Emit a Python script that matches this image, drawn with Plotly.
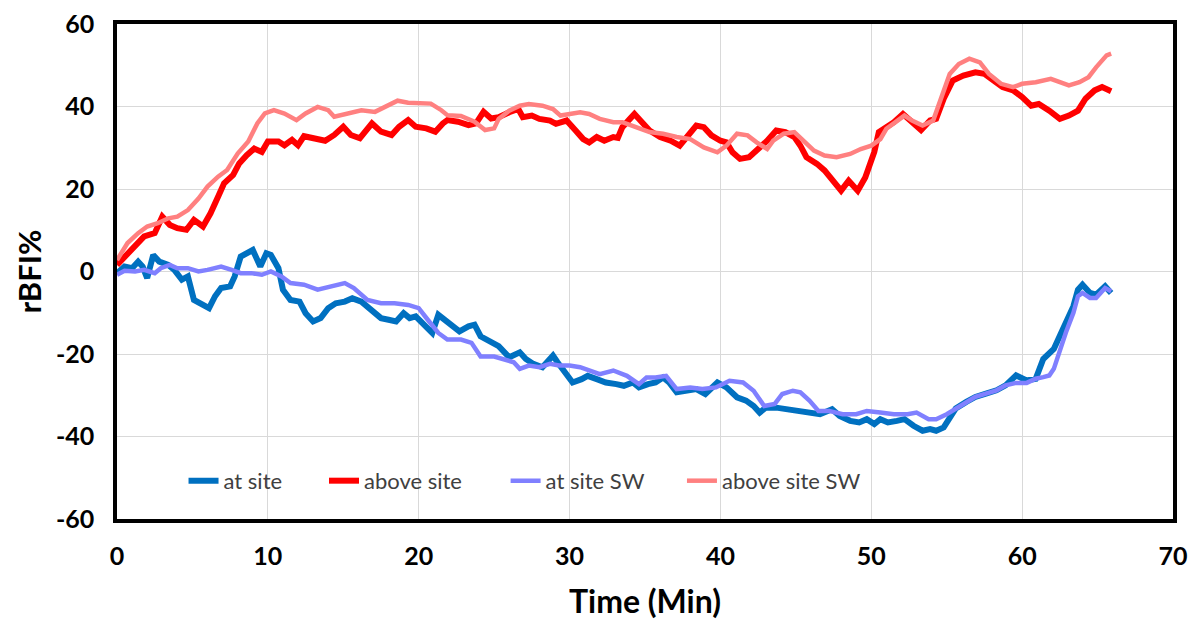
import plotly.graph_objects as go

# ---- data ----
at_site_t = [0, 0.5, 1.0, 1.4, 1.7, 2.0, 2.4, 2.8, 3.4, 3.8, 4.3, 4.7, 5.1, 5.6, 6.1, 6.5, 6.9, 7.5, 7.8, 8.2,
             8.7, 9.0, 9.5, 9.9, 10.2, 10.7, 11.0, 11.5, 12.1, 12.5, 13.0, 13.5, 14.0, 14.5, 15.1, 15.6, 16.2,
             16.9, 17.5, 18.0, 18.5, 19.0, 19.4, 19.8, 20.4, 20.9, 21.3, 21.7, 22.2, 22.7, 23.3, 23.7, 24.1,
             24.7, 25.3, 26.0, 26.7, 27.1, 27.6, 28.2, 28.9, 29.2, 29.8, 30.2, 30.8, 31.2, 31.8, 32.4, 33.1,
             33.6, 34.2, 34.6, 35.2, 35.7, 36.2, 36.6, 37.1, 37.7, 38.4, 39.0, 39.5, 39.8, 40.4, 41.1, 41.7,
             42.2, 42.6, 43.0, 43.7, 44.4, 45.3, 45.9, 46.6, 47.4, 47.9, 48.6, 49.2, 49.7, 50.2, 50.6, 51.1,
             51.7, 52.2, 52.8, 53.4, 53.9, 54.3, 54.8, 55.2, 55.6, 56.3, 56.9, 57.6, 58.3, 58.9, 59.6, 60.3,
             60.9, 61.4, 61.8, 62.1, 62.5, 62.9, 63.4, 63.7, 64.0, 64.5, 64.9, 65.5, 65.9]
at_site_v = [-0.4, 1.2, 0.8, 2.4, 1.2, -1.6, 4.0, 2.4, 1.6, 0.4, -2.0, -1.2, -6.9, -8.1, -8.9, -6.0, -4.0, -3.6,
             -1.2, 3.6, 4.4, 5.2, 1.2, 4.4, 4.0, 0.8, -4.4, -6.9, -7.3, -10.1, -12.1, -11.3, -8.9, -7.7, -7.3,
             -6.5, -7.3, -9.3, -11.3, -11.7, -12.1, -10.1, -11.3, -10.9, -13.3, -14.9, -10.5, -11.7, -13.3,
             -14.5, -13.3, -12.9, -15.7, -16.9, -18.1, -20.8, -19.6, -21.2, -22.4, -23.2, -20.4, -22.0, -25.3,
             -26.9, -26.1, -25.3, -26.1, -26.9, -27.3, -27.7, -26.9, -28.1, -27.3, -26.9, -25.7, -26.9, -29.3,
             -28.9, -28.5, -29.7, -27.7, -26.9, -28.1, -30.5, -31.3, -32.6, -34.2, -33.0, -33.0, -33.4, -33.8,
             -34.0, -34.6, -33.4, -35.0, -36.2, -36.6, -35.8, -37.0, -35.8, -36.6, -36.2, -35.8, -37.4, -38.6,
             -38.2, -38.6, -37.8, -35.4, -33.2, -31.6, -30.4, -29.6, -28.8, -27.6, -25.2, -26.4, -26.0, -21.2,
             -19.6, -18.8, -15.6, -12.4, -8.4, -4.4, -3.2, -5.2, -5.6, -3.6, -5.2]

above_site_t = [0, 0.7, 1.4, 1.8, 2.5, 3.0, 3.5, 4.0, 4.6, 5.1, 5.7, 6.2, 6.7, 7.1, 7.7, 8.1, 8.6, 9.1, 9.6,
                10.0, 10.7, 11.1, 11.6, 12.0, 12.4, 13.1, 13.8, 14.4, 15.0, 15.5, 16.1, 16.9, 17.5, 18.2, 18.7,
                19.3, 19.8, 20.5, 21.1, 21.6, 21.9, 22.6, 23.3, 23.8, 24.3, 24.8, 25.3, 26.0, 26.6, 26.9, 27.5,
                28.0, 28.7, 29.1, 29.8, 30.4, 30.9, 31.3, 31.8, 32.3, 32.9, 33.2, 33.5, 34.0, 34.3, 34.8, 35.3,
                36.0, 36.7, 37.3, 37.8, 38.4, 38.9, 39.4, 40.0, 40.4, 40.8, 41.3, 41.9, 42.4, 43.1, 43.7, 44.3,
                44.9, 45.3, 45.7, 46.4, 46.9, 47.4, 48.0, 48.5, 49.1, 49.6, 50.2, 50.5, 50.9, 51.5, 52.1, 52.6,
                53.3, 53.9, 54.3, 54.8, 55.4, 56.1, 56.9, 57.5, 58.1, 58.7, 59.4, 60.0, 60.6, 61.1, 61.8, 62.5,
                63.1, 63.7, 64.2, 64.8, 65.3, 65.9]
above_site_v = [1.6, 4.4, 6.9, 8.5, 9.3, 13.3, 11.3, 10.5, 10.1, 12.5, 10.9, 14.1, 18.1, 21.4, 23.4, 26.2, 28.2,
                29.8, 29.0, 31.5, 31.5, 30.6, 31.9, 30.6, 32.8, 32.3, 31.7, 33.1, 35.1, 33.1, 32.3, 35.9, 33.9,
                33.1, 35.1, 36.7, 35.1, 34.7, 33.9, 35.9, 36.7, 36.3, 35.5, 35.9, 38.7, 37.1, 37.4, 38.6, 39.4,
                37.4, 37.8, 37.0, 36.6, 35.8, 36.6, 34.2, 32.1, 31.3, 32.6, 31.7, 32.6, 32.4, 35.0, 37.0, 38.2,
                36.2, 34.2, 32.6, 31.7, 30.5, 33.0, 35.4, 35.0, 33.0, 31.7, 31.3, 28.9, 27.3, 27.7, 29.3, 31.7,
                34.2, 33.8, 32.6, 30.5, 27.7, 26.1, 24.5, 22.0, 19.6, 22.0, 19.6, 22.8, 29.0, 33.8, 34.8, 36.2,
                38.2, 36.6, 34.3, 36.6, 37.0, 41.9, 46.3, 47.5, 48.3, 47.9, 46.3, 44.7, 43.9, 42.3, 40.2, 40.6,
                39.0, 37.0, 37.8, 39.0, 41.9, 43.9, 44.7, 43.7]

at_site_sw_t = [0, 0.5, 1.2, 1.8, 2.5, 2.9, 3.5, 4.0, 4.7, 5.4, 6.0, 6.9, 7.6, 8.2, 8.9, 9.6, 10.2, 10.9, 11.5,
                12.4, 13.3, 14.2, 15.1, 15.7, 16.6, 17.5, 18.4, 19.3, 20.0, 20.6, 21.3, 21.9, 22.8, 23.5, 24.1,
                25.0, 25.7, 26.3, 26.7, 27.3, 28.0, 28.7, 29.3, 30.0, 30.7, 31.3, 32.0, 32.9, 33.8, 34.6, 35.1,
                35.7, 36.4, 37.1, 38.0, 38.8, 39.7, 40.6, 41.5, 42.2, 42.9, 43.6, 44.1, 44.8, 45.3, 45.9, 46.5,
                47.2, 48.1, 49.0, 49.7, 50.6, 51.5, 52.4, 53.0, 53.8, 54.3, 55.0, 55.6, 56.3, 56.9, 57.6, 58.3,
                58.9, 59.6, 60.3, 60.9, 61.4, 61.8, 62.1, 62.5, 62.9, 63.4, 63.7, 64.0, 64.5, 64.9, 65.5, 65.9]
at_site_sw_v = [-0.8, 0.2, 0.0, 0.4, -0.4, 0.8, 1.6, 0.8, 0.8, 0.0, 0.4, 1.2, 0.4, -0.4, -0.4, -0.8, 0.0, -1.2,
                -2.8, -3.2, -4.4, -3.6, -2.8, -4.0, -6.9, -7.7, -7.7, -8.1, -8.9, -11.7, -14.9, -16.5, -16.5,
                -17.3, -20.6, -20.6, -21.4, -22.0, -23.6, -22.8, -23.2, -22.4, -22.8, -22.8, -23.2, -24.0, -24.9,
                -24.0, -25.3, -27.3, -25.7, -25.7, -25.3, -28.5, -28.1, -28.5, -28.1, -26.5, -26.9, -28.9, -32.6,
                -32.1, -29.7, -28.9, -29.3, -31.3, -33.8, -33.8, -34.6, -34.6, -33.8, -34.2, -34.6, -34.6, -34.2,
                -35.8, -35.8, -34.6, -33.2, -31.6, -30.4, -29.6, -28.8, -27.6, -27.0, -27.0, -26.0, -25.6, -25.2,
                -23.6, -18.8, -14.8, -10.0, -6.0, -5.2, -6.4, -6.4, -4.0, -4.8]

above_site_sw_t = [0, 0.7, 1.4, 2.0, 2.7, 3.4, 4.0, 4.7, 5.4, 6.0, 6.7, 7.3, 8.0, 8.7, 9.3, 9.8, 10.4, 11.1,
                   11.9, 12.5, 13.3, 14.0, 14.4, 15.3, 16.2, 17.1, 18.0, 18.6, 19.3, 20.2, 20.8, 21.5, 21.9, 22.8,
                   23.7, 24.4, 25.0, 25.3, 26.0, 26.7, 27.3, 28.2, 28.9, 29.4, 30.0, 30.7, 31.3, 32.0, 32.9, 33.5,
                   34.4, 35.3, 36.2, 37.1, 38.0, 38.9, 39.8, 40.4, 41.1, 41.8, 42.4, 43.1, 43.5, 44.2, 44.9, 45.5,
                   46.2, 46.9, 47.7, 48.6, 49.3, 50.0, 50.6, 51.0, 51.6, 52.2, 52.7, 53.4, 54.1, 54.6, 55.2, 55.8,
                   56.5, 57.2, 57.8, 58.6, 59.4, 60.0, 60.9, 61.9, 62.5, 63.1, 63.8, 64.4, 64.9, 65.6, 65.9]
above_site_sw_v = [2.8, 6.9, 9.3, 10.9, 11.7, 12.9, 13.3, 14.9, 17.7, 20.6, 23.0, 24.6, 28.6, 31.5, 35.9, 38.3,
                   39.1, 38.3, 36.7, 38.3, 39.9, 39.1, 37.5, 38.3, 39.1, 38.7, 40.3, 41.4, 40.9, 40.9, 40.7, 39.1,
                   37.9, 37.7, 36.3, 34.3, 34.7, 37.0, 39.0, 40.2, 40.6, 40.2, 39.4, 37.8, 38.2, 38.6, 38.2, 37.0,
                   36.2, 36.2, 35.0, 33.8, 33.4, 32.6, 32.1, 30.1, 28.9, 30.5, 33.4, 33.0, 31.3, 29.7, 31.7, 33.4,
                   33.8, 31.7, 29.3, 28.1, 27.7, 28.5, 29.7, 30.5, 32.1, 34.6, 36.2, 37.8, 36.6, 35.4, 36.6, 41.9,
                   47.9, 50.3, 51.6, 50.7, 47.9, 45.5, 44.7, 45.5, 45.9, 46.7, 45.9, 45.1, 45.9, 47.1, 49.5, 52.4,
                   52.8]

series_names = ["at site", "above site", "at site SW", "above site SW"]
x_ticks = [0, 10, 20, 30, 40, 50, 60, 70]
y_ticks = [-60, -40, -20, 0, 20, 40, 60]

colors = ["#0070C0", "#FF0000", "#8080FF", "#FF8080"]
widths = [6, 6, 4.5, 4.5]
legend_ids = ["legend", "legend2", "legend3", "legend4"]
legend_x = [0.063, 0.196, 0.368, 0.535]

data = [(at_site_t, at_site_v), (above_site_t, above_site_v),
        (at_site_sw_t, at_site_sw_v), (above_site_sw_t, above_site_sw_v)]

fig = go.Figure()
for i, (t, v) in enumerate(data):
    fig.add_trace(go.Scatter(
        x=t, y=v, mode="lines", name=series_names[i],
        line=dict(color=colors[i], width=widths[i]),
        legend=legend_ids[i], hoverinfo="skip",
    ))

legend_common = dict(orientation="h", yanchor="middle", xanchor="left", y=0.077,
                     bgcolor="rgba(0,0,0,0)", borderwidth=0,
                     font=dict(family="Lato", size=22, color="#404040"))
layout_legends = {}
for i, lid in enumerate(legend_ids):
    layout_legends[lid] = dict(legend_common, x=legend_x[i])

axis_font = dict(family="Lato", size=25, color="#000000", weight="bold")

fig.update_layout(
    width=1190, height=620,
    margin=dict(l=117, r=17, t=24, b=101),
    paper_bgcolor="white", plot_bgcolor="white",
    showlegend=True,
    **layout_legends,
    xaxis=dict(
        range=[0, 70], tickvals=x_ticks, ticktext=[str(v) for v in x_ticks],
        showgrid=True, gridcolor="#d9d9d9", gridwidth=1,
        showline=True, linecolor="black", linewidth=3.5, mirror=True,
        zeroline=False, ticks="", ticklabelstandoff=12, automargin=False,
        tickfont=axis_font,
        title=dict(text="<b>Time (Min)</b>", font=dict(family="Lato", size=32, color="#000000"), standoff=26),
    ),
    yaxis=dict(
        range=[-60, 60], tickvals=y_ticks, ticktext=[str(v) for v in y_ticks],
        showgrid=True, gridcolor="#d9d9d9", gridwidth=1,
        showline=True, linecolor="black", linewidth=3.5, mirror=True,
        zeroline=False, ticks="", ticklabelstandoff=14, automargin=False,
        tickfont=axis_font,
        title=dict(text="<b>rBFI%</b>", font=dict(family="Lato", size=31, color="#000000"), standoff=6),
    ),
)

fig.write_html("out.html", config={"displayModeBar": False},
               post_script="document.body.style.margin='0';")
